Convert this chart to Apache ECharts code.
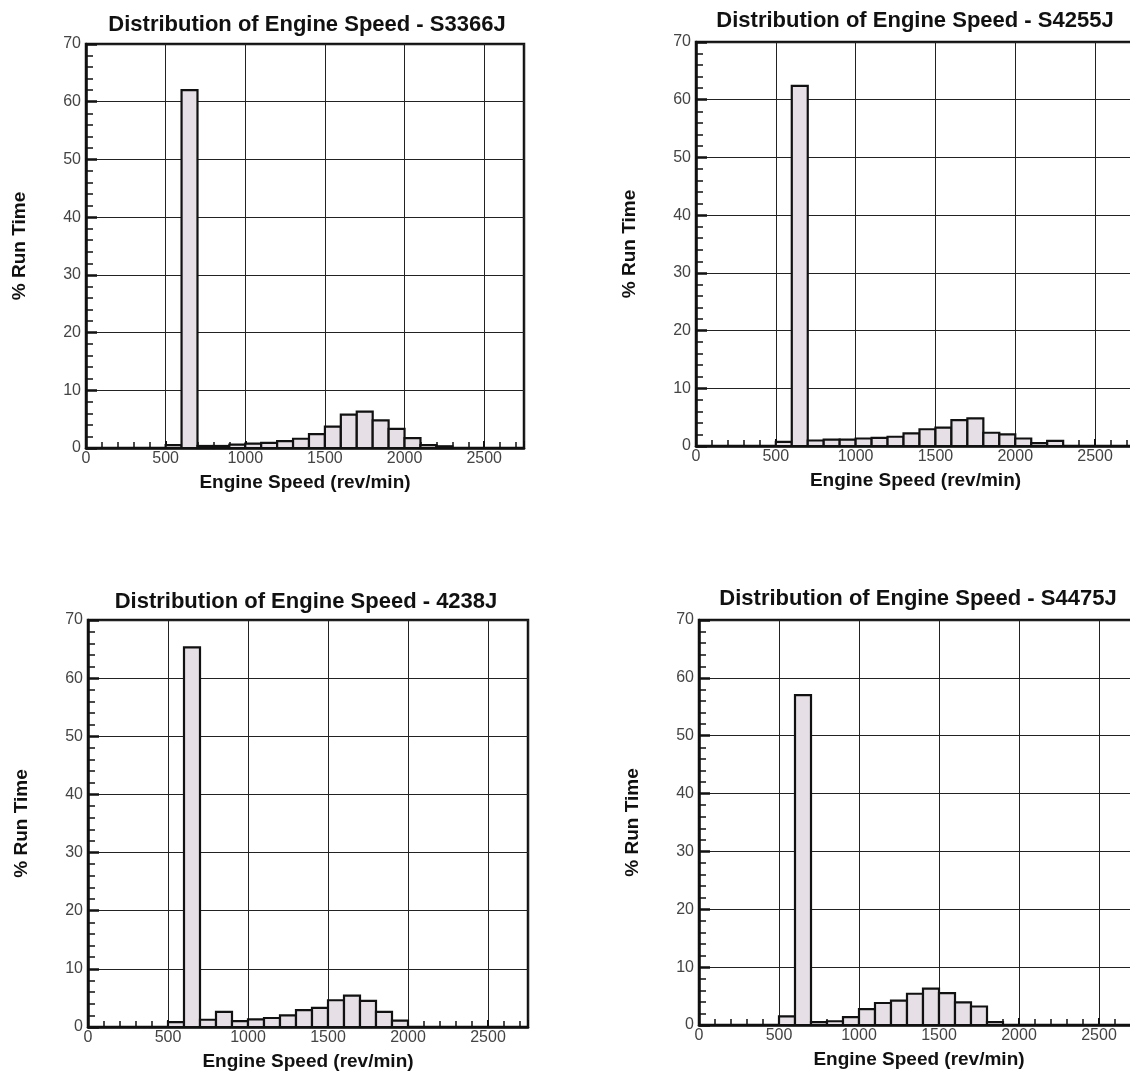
<!DOCTYPE html>
<html>
<head>
<meta charset="utf-8">
<script src="https://cdn.jsdelivr.net/npm/echarts@6/dist/echarts.min.js"></script>
<style>
  html, body { margin: 0; padding: 0; background: #fff; }
  #chart { width: 1130px; height: 1074px; }
</style>
</head>
<body>
<div id="chart"></div>
<script>
// ---- data ----
const binWidth = 100;
const bins3366 = [500,600,700,800,900,1000,1100,1200,1300,1400,1500,1600,1700,1800,1900,2000,2100,2200];
const vals3366 = [0.5,62,0.35,0.35,0.6,0.75,0.9,1.2,1.6,2.4,3.7,5.8,6.3,4.8,3.3,1.7,0.5,0.3];
const bins4255 = [500,600,700,800,900,1000,1100,1200,1300,1400,1500,1600,1700,1800,1900,2000,2100,2200];
const vals4255 = [0.7,62.4,0.95,1.1,1.1,1.3,1.4,1.6,2.2,2.9,3.2,4.5,4.8,2.3,2.0,1.3,0.5,0.9];
const bins4238 = [500,600,700,800,900,1000,1100,1200,1300,1400,1500,1600,1700,1800,1900];
const vals4238 = [0.85,65.3,1.25,2.6,1.0,1.3,1.55,2.0,2.9,3.3,4.6,5.4,4.5,2.6,1.1];
const bins4475 = [500,600,700,800,900,1000,1100,1200,1300,1400,1500,1600,1700,1800];
const vals4475 = [1.5,57,0.5,0.65,1.35,2.75,3.8,4.2,5.4,6.3,5.5,3.9,3.2,0.5];
const titles = [
  'Distribution of Engine Speed - S3366J',
  'Distribution of Engine Speed - S4255J',
  'Distribution of Engine Speed - 4238J',
  'Distribution of Engine Speed - S4475J'
];
const xTitle = 'Engine Speed (rev/min)';
const yTitle = '% Run Time';
const xMin = 0, xMax = 2750, xStep = 500;
const yMin = 0, yMax = 70, yStep = 10;

// ---- layout ----
const panels = [
  { bins: bins3366, vals: vals3366, grid: { left: 86, top: 44, width: 438, height: 404 }, titleX: 302, titleY: 9 },
  { bins: bins4255, vals: vals4255, grid: { left: 696, top: 42, width: 439, height: 404 }, titleX: 910, titleY: 5 },
  { bins: bins4238, vals: vals4238, grid: { left: 88, top: 620, width: 440, height: 407 }, titleX: 301, titleY: 586 },
  { bins: bins4475, vals: vals4475, grid: { left: 699, top: 620, width: 440, height: 405 }, titleX: 913, titleY: 583 }
];

const FONT = '"Liberation Sans", Arial, sans-serif';
const chart = echarts.init(document.getElementById('chart'), null, { renderer: 'canvas' });

function renderItem(params, api) {
  const x0 = api.value(0);
  const y = api.value(1);
  const p1 = api.coord([x0, y]);
  const p2 = api.coord([x0 + binWidth, 0]);
  return {
    type: 'rect',
    shape: { x: p1[0], y: p1[1], width: p2[0] - p1[0], height: p2[1] - p1[1] },
    style: { fill: '#e6e0e6', stroke: '#111', lineWidth: 2.2 }
  };
}

const option = {
  animation: false,
  backgroundColor: '#fff',
  title: panels.map((p, i) => ({
    text: titles[i],
    left: p.titleX, top: p.titleY,
    textAlign: 'center',
    textStyle: { fontFamily: FONT, fontWeight: 'bold', fontSize: 22, color: '#111' }
  })),
  grid: panels.map(p => Object.assign({
    show: true, borderColor: '#111', borderWidth: 2.5, backgroundColor: '#fff',
    containLabel: false, outerBoundsMode: 'none'
  }, p.grid)),
  xAxis: panels.map((p, i) => ({
    type: 'value', gridIndex: i, min: xMin, max: xMax, interval: xStep,
    name: xTitle, nameLocation: 'middle', nameGap: 25,
    nameTextStyle: { fontFamily: FONT, fontWeight: 'bold', fontSize: 19, color: '#111' },
    axisLine: { show: true, onZero: false, lineStyle: { color: '#111', width: 2.5 } },
    axisTick: { show: true, inside: true, length: 7, lineStyle: { color: '#111', width: 2 } },
    minorTick: { show: true, splitNumber: 5, length: 6, lineStyle: { color: '#111', width: 1.5 } },
    axisLabel: { fontFamily: FONT, fontSize: 16, color: '#444', margin: 3,
      formatter: v => (v % 500 === 0 && v <= 2500) ? String(v) : '' },
    splitLine: { show: true, lineStyle: { color: '#222', width: 1 } },
    minorSplitLine: { show: false }
  })),
  yAxis: panels.map((p, i) => ({
    type: 'value', gridIndex: i, min: yMin, max: yMax, interval: yStep,
    name: yTitle, nameLocation: 'middle', nameGap: 57, nameRotate: 90,
    nameTextStyle: { fontFamily: FONT, fontWeight: 'bold', fontSize: 19, color: '#111' },
    axisLine: { show: true, onZero: false, lineStyle: { color: '#111', width: 2.5 } },
    axisTick: { show: true, inside: true, length: 11, lineStyle: { color: '#111', width: 2.5 } },
    minorTick: { show: true, splitNumber: 5, length: 7, lineStyle: { color: '#111', width: 1.5 } },
    axisLabel: { fontFamily: FONT, fontSize: 16, color: '#444', margin: 5 },
    splitLine: { show: true, lineStyle: { color: '#222', width: 1 } }
  })),
  series: panels.map((p, i) => ({
    type: 'custom', xAxisIndex: i, yAxisIndex: i,
    renderItem: renderItem,
    data: p.bins.map((b, j) => [b, p.vals[j]]),
    encode: { x: 0, y: 1 },
    clip: false
  }))
};
chart.setOption(option);
</script>
</body>
</html>
